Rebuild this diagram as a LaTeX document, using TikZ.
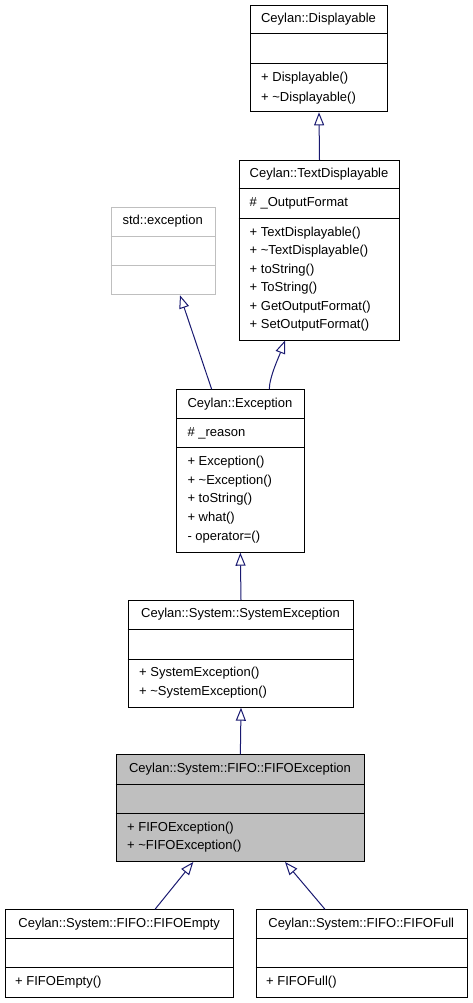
\documentclass[tikz,border=0pt]{standalone}
\usepackage{fontspec}
\setmainfont{Liberation Sans}
\usetikzlibrary{arrows.meta}
\definecolor{edgeblue}{HTML}{191970}
\definecolor{boxgray}{HTML}{BFBFBF}
\begin{document}
\begin{tikzpicture}[x=1pt,y=-1pt,
  cls/.style={draw=black, line width=1pt, inner sep=0pt, anchor=north west},
  sepline/.style={draw=black, line width=1pt},
  ttl/.style={anchor=base, inner sep=0pt, font=\fontsize{13}{15}\selectfont},
  mem/.style={anchor=base west, inner sep=0pt, font=\fontsize{13}{15}\selectfont},
  inh/.style={draw=edgeblue, line width=1pt, -{Triangle[open,length=13pt,width=10pt]}}
]
\useasboundingbox (0,0) rectangle (472,1003);

% Ceylan::Displayable
\node[cls, minimum width=136.4pt, minimum height=106pt] (disp) at (250.3,5.3) {};
\draw[sepline] (250.3,34) -- (386.7,34);
\draw[sepline] (250.3,63.7) -- (386.7,63.7);
\node[ttl] (dispT) at (318.5,22.8) {Ceylan::Displayable};
\node[mem] (dispM1) at (261,81.8) {+ Displayable()};
\node[mem] (dispM2) at (261,101.2) {+ \textasciitilde Displayable()};

% Ceylan::TextDisplayable
\node[cls, minimum width=160.6pt, minimum height=179.5pt] (textd) at (238.7,160) {};
\draw[sepline] (238.7,189) -- (399.3,189);
\draw[sepline] (238.7,218.7) -- (399.3,218.7);
\node[ttl] (textdT) at (319,177.8) {Ceylan::TextDisplayable};
\node[mem] (textdA1) at (249.5,206.8) {\# \_OutputFormat};
\node[mem] (textdM1) at (249.5,236.2) {+ TextDisplayable()};
\node[mem] (textdM2) at (249.5,254.7) {+ \textasciitilde TextDisplayable()};
\node[mem] (textdM3) at (249.5,273.2) {+ toString()};
\node[mem] (textdM4) at (249.5,291.7) {+ ToString()};
\node[mem] (textdM5) at (249.5,310.2) {+ GetOutputFormat()};
\node[mem] (textdM6) at (249.5,328.7) {+ SetOutputFormat()};

% std::exception
\node[cls, draw=boxgray, minimum width=104pt, minimum height=87.6pt] (stdx) at (110.7,206.7) {};
\draw[sepline, draw=boxgray] (110.7,236.7) -- (214.7,236.7);
\draw[sepline, draw=boxgray] (110.7,265.7) -- (214.7,265.7);
\node[ttl] (stdxT) at (162.7,224.5) {std::exception};

% Ceylan::Exception
\node[cls, minimum width=127.7pt, minimum height=162.4pt] (exc) at (176,389.3) {};
\draw[sepline] (176,418.7) -- (303.7,418.7);
\draw[sepline] (176,447.7) -- (303.7,447.7);
\node[ttl] (excT) at (239.9,407.2) {Ceylan::Exception};
\node[mem] (excA1) at (187.3,436.2) {\# \_reason};
\node[mem] (excM1) at (187.3,465.2) {+ Exception()};
\node[mem] (excM2) at (187.3,484) {+ \textasciitilde Exception()};
\node[mem] (excM3) at (187.3,502.8) {+ toString()};
\node[mem] (excM4) at (187.3,521.6) {+ what()};
\node[mem] (excM5) at (187.3,540.4) {- operator=()};

% Ceylan::System::SystemException
\node[cls, minimum width=225.6pt, minimum height=106.7pt] (sysx) at (127.7,600) {};
\draw[sepline] (127.7,629.3) -- (353.3,629.3);
\draw[sepline] (127.7,659.3) -- (353.3,659.3);
\node[ttl] (sysxT) at (240.5,617.2) {Ceylan::System::SystemException};
\node[mem] (sysxM1) at (139,676.2) {+ SystemException()};
\node[mem] (sysxM2) at (139,695.2) {+ \textasciitilde SystemException()};

% Ceylan::System::FIFO::FIFOException
\node[cls, fill=boxgray, minimum width=248.3pt, minimum height=106.7pt] (fifox) at (115.7,754.3) {};
\draw[sepline] (115.7,784) -- (364,784);
\draw[sepline] (115.7,813.3) -- (364,813.3);
\node[ttl] (fifoxT) at (240,772.2) {Ceylan::System::FIFO::FIFOException};
\node[mem] (fifoxM1) at (127,831.2) {+ FIFOException()};
\node[mem] (fifoxM2) at (127,849.2) {+ \textasciitilde FIFOException()};

% Ceylan::System::FIFO::FIFOEmpty
\node[cls, minimum width=228.3pt, minimum height=87.4pt] (empty) at (5,909.3) {};
\draw[sepline] (5,938.3) -- (233.3,938.3);
\draw[sepline] (5,967.3) -- (233.3,967.3);
\node[ttl] (emptyT) at (119.2,927.2) {Ceylan::System::FIFO::FIFOEmpty};
\node[mem] (emptyM1) at (15,985.5) {+ FIFOEmpty()};

% Ceylan::System::FIFO::FIFOFull
\node[cls, minimum width=211pt, minimum height=87.4pt] (full) at (255.7,909.3) {};
\draw[sepline] (255.7,938.3) -- (466.7,938.3);
\draw[sepline] (255.7,967.3) -- (466.7,967.3);
\node[ttl] (fullT) at (361.2,927.2) {Ceylan::System::FIFO::FIFOFull};
\node[mem] (fullM1) at (266,985.5) {+ FIFOFull()};

% inheritance edges
\draw[inh] (textd.north) -- (disp.south);
\draw[inh] ([xshift=35.7pt]exc.north west) -- ([xshift=69.3pt]stdx.south west);
\draw[inh] ([xshift=93.3pt]exc.north west) .. controls +(0,-12) and +(-6,16) .. ([xshift=46.3pt]textd.south west);
\draw[inh] (sysx.north) -- (exc.south);
\draw[inh] (fifox.north) -- (sysx.south);
\draw[inh] ([xshift=150pt]empty.north west) -- ([xshift=77.6pt]fifox.south west);
\draw[inh] ([xshift=69.3pt]full.north west) -- ([xshift=169.3pt]fifox.south west);
\end{tikzpicture}
\end{document}
